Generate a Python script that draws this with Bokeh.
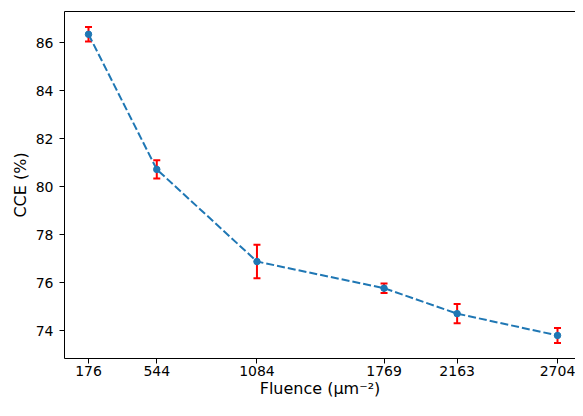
from bokeh.plotting import figure
from bokeh.models import ColumnDataSource, Whisker, TeeHead, FixedTicker, LinearAxis, Range1d
from bokeh.embed import file_html
from bokeh.resources import INLINE

fluence = [176, 544, 1084, 1769, 2163, 2704]
cce = [86.35, 80.72, 76.88, 75.77, 74.71, 73.80]
err = [0.30, 0.38, 0.70, 0.20, 0.40, 0.31]
x_ticks = [176, 544, 1084, 1769, 2163, 2704]
y_ticks = [74, 76, 78, 80, 82, 84, 86]

src = ColumnDataSource(dict(
    x=fluence, y=cce,
    lower=[c - e for c, e in zip(cce, err)],
    upper=[c + e for c, e in zip(cce, err)],
))

FONT = "DejaVu Sans"

p = figure(width=575, height=400, output_backend="svg", toolbar_location=None,
           x_range=Range1d(46.6, 2801), y_range=Range1d(72.84, 87.30),
           min_border_left=64, min_border_right=0, min_border_top=11, min_border_bottom=41)
p.outline_line_color = None
p.xgrid.visible = False
p.ygrid.visible = False
p.background_fill_color = "white"
p.border_fill_color = "white"

p.line("x", "y", source=src, line_color="#1f77b4", line_width=2, line_dash="8 3")
p.scatter("x", "y", source=src, size=6.5, fill_color="#1f77b4", line_color="#1f77b4")
w = Whisker(base="x", lower="lower", upper="upper", source=src, dimension="height",
            line_color="red", line_width=2,
            upper_head=TeeHead(size=7, line_color="red", line_width=2),
            lower_head=TeeHead(size=7, line_color="red", line_width=2))
p.add_layout(w)

for ax in (p.xaxis[0], p.yaxis[0]):
    ax.axis_line_color = "black"
    ax.axis_line_width = 1
    ax.major_tick_line_color = "black"
    ax.major_tick_in = 0
    ax.major_tick_out = 5
    ax.minor_tick_line_color = None
    ax.major_label_text_font = FONT
    ax.major_label_text_font_size = "14px"
    ax.major_label_text_color = "black"
    ax.axis_label_text_font = FONT
    ax.axis_label_text_font_size = "16px"
    ax.axis_label_text_font_style = "normal"
    ax.axis_label_text_color = "black"

p.xaxis.ticker = FixedTicker(ticks=x_ticks)
p.yaxis.ticker = FixedTicker(ticks=y_ticks)
p.xaxis.axis_label = "Fluence (μm⁻²)"
p.yaxis.axis_label = "CCE (%)"
p.xaxis.major_label_standoff = 2
p.xaxis.axis_label_standoff = 0
p.yaxis.major_label_standoff = 6
p.yaxis.axis_label_standoff = 3

top = LinearAxis(ticker=FixedTicker(ticks=[]), axis_line_color="black", axis_line_width=1,
                 major_tick_line_color=None, minor_tick_line_color=None,
                 major_label_text_font_size="0px", major_tick_out=0, major_tick_in=0)
p.add_layout(top, "above")

open("out.html", "w").write(file_html(p, INLINE))
